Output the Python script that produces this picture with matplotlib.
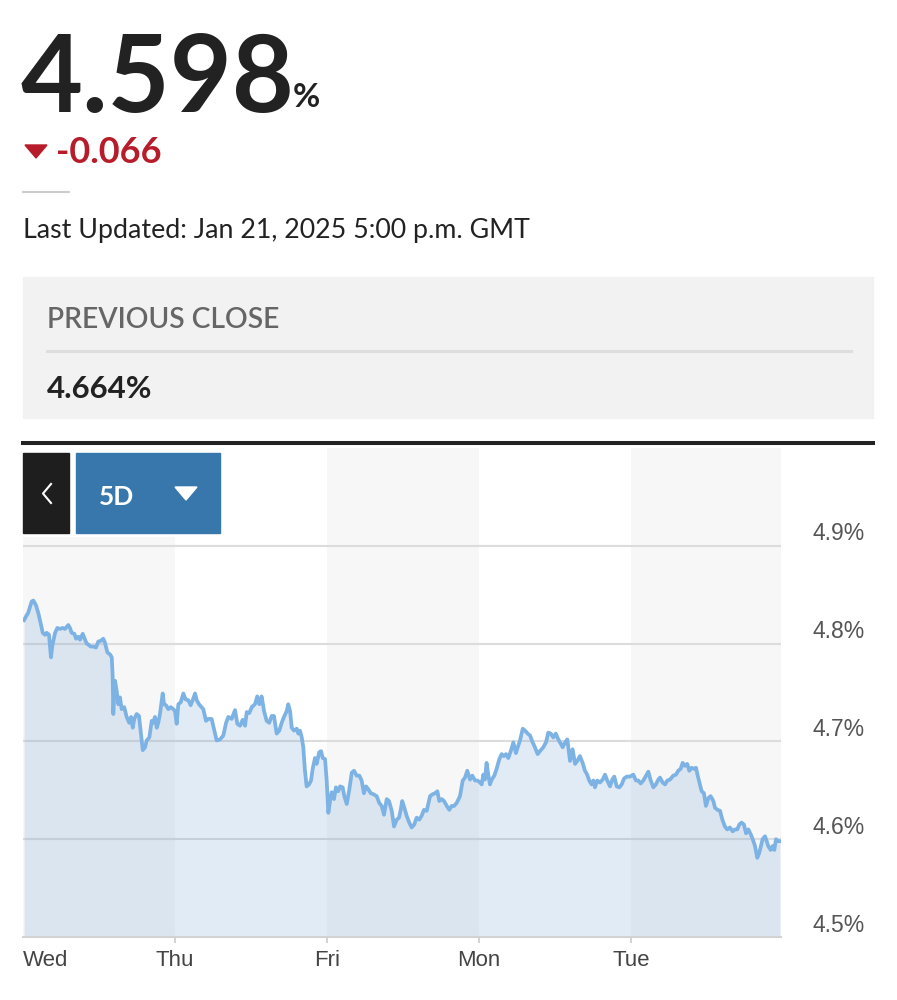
import matplotlib
matplotlib.use("Agg")
import matplotlib.pyplot as plt
from matplotlib.patches import Rectangle, Polygon
from matplotlib.lines import Line2D

# ---------------- data ----------------
last_value = "4.598"
change_text = "-0.066"
updated_text = "Last Updated: Jan 21, 2025 5:00 p.m. GMT"
prev_close_label = "PREVIOUS CLOSE"
prev_close_value = "4.664%"
range_label = "5D"

day_labels = ["Wed", "Thu", "Fri", "Mon", "Tue"]
day_ticks = [0, 1, 2, 3, 4]
y_ticks = [4.5, 4.6, 4.7, 4.8, 4.9]
y_tick_labels = ["4.5%", "4.6%", "4.7%", "4.8%", "4.9%"]

# time in trading days since Wed open, yield in %
t = [0.007, 0.024, 0.033, 0.057, 0.068, 0.086, 0.101, 0.116, 0.130, 0.145,
     0.156, 0.171, 0.184, 0.193, 0.211, 0.226, 0.243, 0.261, 0.276, 0.298,
     0.309, 0.320, 0.338, 0.349, 0.364, 0.375, 0.393, 0.408, 0.419, 0.430,
     0.445, 0.463, 0.480, 0.495, 0.513, 0.528, 0.539, 0.555, 0.572, 0.584,
     0.590, 0.594, 0.605, 0.616, 0.627, 0.638, 0.649, 0.666, 0.682, 0.699,
     0.711, 0.722, 0.732, 0.748, 0.763, 0.774, 0.788, 0.803, 0.814, 0.831,
     0.847, 0.857, 0.868, 0.880, 0.890, 0.901, 0.919, 0.928, 0.941, 0.956,
     0.972, 0.989, 1.000, 1.011, 1.022, 1.038, 1.055, 1.070, 1.088, 1.103,
     1.116, 1.132, 1.143, 1.158, 1.186, 1.204, 1.219, 1.241, 1.263, 1.274,
     1.296, 1.318, 1.336, 1.351, 1.373, 1.395, 1.410, 1.428, 1.445, 1.461,
     1.472, 1.489, 1.505, 1.526, 1.541, 1.555, 1.570, 1.586, 1.603, 1.620,
     1.636, 1.651, 1.669, 1.686, 1.702, 1.717, 1.735, 1.745, 1.757, 1.768,
     1.783, 1.801, 1.811, 1.822, 1.834, 1.844, 1.855, 1.866, 1.882, 1.895,
     1.906, 1.921, 1.932, 1.949, 1.961, 1.972, 1.987, 1.998, 2.009, 2.020,
     2.031, 2.046, 2.059, 2.074, 2.086, 2.103, 2.114, 2.130, 2.145, 2.163,
     2.178, 2.195, 2.213, 2.228, 2.243, 2.257, 2.272, 2.288, 2.305, 2.327,
     2.344, 2.360, 2.375, 2.393, 2.408, 2.426, 2.441, 2.459, 2.474, 2.485,
     2.495, 2.509, 2.524, 2.541, 2.557, 2.574, 2.590, 2.607, 2.623, 2.638,
     2.656, 2.666, 2.678, 2.695, 2.711, 2.726, 2.739, 2.755, 2.770, 2.788,
     2.805, 2.820, 2.836, 2.853, 2.875, 2.893, 2.908, 2.923, 2.941, 2.956,
     2.974, 2.989, 3.007, 3.018, 3.028, 3.039, 3.050, 3.061, 3.072, 3.084,
     3.101, 3.116, 3.134, 3.149, 3.164, 3.178, 3.193, 3.209, 3.226, 3.243,
     3.255, 3.270, 3.288, 3.303, 3.320, 3.336, 3.353, 3.368, 3.386, 3.401,
     3.423, 3.441, 3.456, 3.472, 3.489, 3.505, 3.522, 3.551, 3.566, 3.581,
     3.599, 3.616, 3.632, 3.647, 3.664, 3.682, 3.697, 3.712, 3.725, 3.741,
     3.752, 3.763, 3.778, 3.796, 3.814, 3.829, 3.844, 3.862, 3.877, 3.890,
     3.906, 3.923, 3.939, 3.954, 3.972, 3.993, 4.015, 4.033, 4.048, 4.064,
     4.081, 4.099, 4.114, 4.130, 4.147, 4.164, 4.180, 4.191, 4.208, 4.224,
     4.239, 4.257, 4.278, 4.296, 4.311, 4.327, 4.340, 4.355, 4.370, 4.384,
     4.399, 4.414, 4.428, 4.439, 4.454, 4.465, 4.480, 4.493, 4.509, 4.524,
     4.542, 4.553, 4.570, 4.586, 4.601, 4.618, 4.633, 4.651, 4.669, 4.684,
     4.699, 4.713, 4.728, 4.743, 4.757, 4.772, 4.788, 4.801, 4.816, 4.831,
     4.844, 4.855, 4.866, 4.882, 4.893, 4.903, 4.919, 4.932, 4.943, 4.954,
     4.969, 4.980]
yld = [4.824, 4.829, 4.831, 4.843, 4.844, 4.839, 4.831, 4.821, 4.811, 4.809,
       4.811, 4.809, 4.786, 4.798, 4.811, 4.816, 4.815, 4.816, 4.815, 4.819,
       4.816, 4.811, 4.810, 4.805, 4.807, 4.804, 4.810, 4.804, 4.800, 4.799,
       4.797, 4.797, 4.796, 4.802, 4.803, 4.805, 4.801, 4.791, 4.789, 4.786,
       4.766, 4.728, 4.762, 4.752, 4.738, 4.745, 4.733, 4.735, 4.725, 4.719,
       4.725, 4.714, 4.723, 4.728, 4.726, 4.711, 4.691, 4.694, 4.701, 4.704,
       4.721, 4.719, 4.725, 4.714, 4.719, 4.728, 4.749, 4.738, 4.737, 4.733,
       4.735, 4.733, 4.731, 4.718, 4.738, 4.740, 4.749, 4.743, 4.742, 4.737,
       4.742, 4.749, 4.742, 4.738, 4.733, 4.721, 4.723, 4.723, 4.708, 4.701,
       4.702, 4.706, 4.719, 4.725, 4.723, 4.732, 4.718, 4.716, 4.722, 4.716,
       4.730, 4.729, 4.735, 4.738, 4.746, 4.738, 4.746, 4.731, 4.721, 4.719,
       4.726, 4.726, 4.708, 4.711, 4.719, 4.725, 4.731, 4.738, 4.731, 4.714,
       4.711, 4.713, 4.708, 4.711, 4.704, 4.694, 4.670, 4.654, 4.656, 4.660,
       4.672, 4.683, 4.677, 4.689, 4.690, 4.683, 4.682, 4.660, 4.627, 4.639,
       4.648, 4.641, 4.653, 4.649, 4.654, 4.653, 4.644, 4.636, 4.649, 4.668,
       4.670, 4.665, 4.665, 4.660, 4.647, 4.654, 4.651, 4.647, 4.646, 4.644,
       4.637, 4.634, 4.625, 4.641, 4.639, 4.629, 4.613, 4.620, 4.622, 4.630,
       4.639, 4.632, 4.624, 4.617, 4.612, 4.615, 4.622, 4.620, 4.624, 4.630,
       4.629, 4.636, 4.644, 4.646, 4.647, 4.649, 4.639, 4.641, 4.639, 4.634,
       4.630, 4.634, 4.634, 4.637, 4.644, 4.660, 4.663, 4.670, 4.661, 4.665,
       4.660, 4.660, 4.658, 4.656, 4.666, 4.661, 4.678, 4.666, 4.656, 4.661,
       4.665, 4.672, 4.682, 4.687, 4.685, 4.687, 4.683, 4.690, 4.699, 4.688,
       4.694, 4.701, 4.713, 4.711, 4.708, 4.706, 4.699, 4.694, 4.687, 4.690,
       4.694, 4.699, 4.709, 4.708, 4.704, 4.708, 4.702, 4.694, 4.699, 4.702,
       4.680, 4.692, 4.677, 4.680, 4.685, 4.678, 4.670, 4.666, 4.660, 4.656,
       4.660, 4.653, 4.660, 4.658, 4.661, 4.666, 4.660, 4.654, 4.661, 4.664,
       4.654, 4.653, 4.656, 4.662, 4.664, 4.664, 4.666, 4.660, 4.660, 4.657,
       4.660, 4.665, 4.669, 4.660, 4.653, 4.656, 4.661, 4.663, 4.658, 4.656,
       4.660, 4.661, 4.665, 4.666, 4.670, 4.672, 4.678, 4.675, 4.677, 4.670,
       4.673, 4.672, 4.673, 4.665, 4.656, 4.649, 4.647, 4.634, 4.642, 4.644,
       4.639, 4.632, 4.630, 4.629, 4.620, 4.613, 4.610, 4.612, 4.608, 4.610,
       4.610, 4.615, 4.617, 4.615, 4.606, 4.610, 4.605, 4.600, 4.593, 4.581,
       4.586, 4.593, 4.600, 4.603, 4.598, 4.593, 4.589, 4.593, 4.589, 4.600,
       4.598, 4.598]

# ---------------- layout helpers ----------------
W, H = 897, 1000
fig = plt.figure(figsize=(W / 100, H / 100), dpi=100)
fig.patch.set_facecolor("white")

def fx(x):
    return x / W

def fy(y):
    return 1 - y / H

HEAD = "Lato"
AXF = "Liberation Sans"

# big value
fig.text(fx(21), fy(112), last_value, fontsize=77, fontweight="bold",
         family=HEAD, color="#222222", va="baseline", ha="left")
fig.text(fx(293), fy(107), "%", fontsize=24, fontweight="bold",
         family=HEAD, color="#222222", va="baseline", ha="left")

# change
red = "#b71c2b"
fig.patches.append(Polygon([(fx(25), fy(145)), (fx(47), fy(145)), (fx(36), fy(158))],
                           closed=True, transform=fig.transFigure, color=red))
fig.text(fx(56), fy(163), change_text, fontsize=26, fontweight="bold",
         family=HEAD, color=red, va="baseline", ha="left")

# short divider
fig.lines.append(Line2D([fx(23), fx(69)], [fy(192), fy(192)], transform=fig.transFigure,
                        color="#cccccc", lw=1.5))

fig.text(fx(23), fy(238), updated_text, fontsize=19.3, family=HEAD,
         color="#222222", va="baseline", ha="left")

# previous close box
fig.patches.append(Rectangle((fx(23), fy(418)), fx(873) - fx(23), fy(277) - fy(418),
                             transform=fig.transFigure, color="#f2f2f2", zorder=0))
fig.text(fx(47), fy(328), prev_close_label, fontsize=20.3, fontweight="semibold",
         family=HEAD, color="#666666", va="baseline", ha="left")
fig.lines.append(Line2D([fx(47), fx(851)], [fy(351), fy(351)], transform=fig.transFigure,
                        color="#dedede", lw=2.2))
fig.text(fx(47), fy(398), prev_close_value, fontsize=22.5, fontweight="bold",
         family=HEAD, color="#222222", va="baseline", ha="left")

# ---------------- chart axes ----------------
ax_left, ax_right, ax_top, ax_bottom = 23, 781, 448, 937
ax = fig.add_axes([fx(ax_left), fy(ax_bottom), fx(ax_right) - fx(ax_left),
                   fy(ax_top) - fy(ax_bottom)])
ax.set_xlim(0, 4.987)
ax.set_ylim(4.5, 5.0)
ax.set_facecolor("white")

band = "#f7f7f7"
btn_frac = (ax_bottom - 537) / (ax_bottom - ax_top)
ax.axvspan(0, 1, ymax=btn_frac, color=band, lw=0, zorder=0)
ax.axvspan(2, 3, color=band, lw=0, zorder=0)
ax.axvspan(4, 5, color=band, lw=0, zorder=0)

for yv in y_ticks[1:]:
    ax.axhline(yv, color="#dcdcdc", lw=1.5, zorder=1)

ax.fill_between(t, yld, 4.5, color="#6a9fd4", alpha=0.2, lw=0, zorder=2)
ax.plot(t, yld, color="#7db2e5", lw=2.7, zorder=3, solid_joinstyle="round")

for s in ["top", "left", "right"]:
    ax.spines[s].set_visible(False)
ax.spines["bottom"].set_color("#d3d3d3")
ax.spines["bottom"].set_linewidth(1.5)

ax.set_yticks([])
ax.set_xticks(day_ticks)
ax.set_xticklabels(day_labels, family=AXF, fontsize=16, color="#444444")
ax.tick_params(axis="x", length=4, width=1.2, color="#cccccc", pad=5)
ax.xaxis.get_major_ticks()[0].tick1line.set_visible(False)
ax.get_xticklabels()[0].set_ha("left")

for yv, lab in zip(y_ticks, y_tick_labels):
    ax.annotate(lab, xy=(1.0, yv), xycoords=("axes fraction", "data"),
                xytext=(23, 8.5), textcoords="offset points",
                ha="left", va="center", family=AXF, fontsize=16.5,
                color="#555555", annotation_clip=False)

# dark top rule
fig.lines.append(Line2D([fx(23), fx(873)], [fy(443), fy(443)], transform=fig.transFigure,
                        color="#222222", lw=2.9))

# buttons
fig.patches.append(Rectangle((fx(23), fy(533)), fx(69) - fx(23), fy(453) - fy(533),
                             transform=fig.transFigure, color="#1e1e1e", zorder=5))
fig.lines.append(Line2D([fx(51), fx(43), fx(51)], [fy(484), fy(493.5), fy(503)],
                        transform=fig.transFigure, color="white", lw=1.5, zorder=6))
fig.patches.append(Rectangle((fx(76), fy(533)), fx(220) - fx(76), fy(453) - fy(533),
                             transform=fig.transFigure, color="#3777ab", zorder=5))
fig.text(fx(99), fy(505), range_label, fontsize=19, fontweight="bold", family=HEAD,
         color="white", va="baseline", ha="left", zorder=6)
fig.patches.append(Polygon([(fx(175), fy(487)), (fx(197), fy(487)), (fx(186), fy(500))],
                           closed=True, transform=fig.transFigure, color="white", zorder=6))

fig.savefig("out.png", dpi=100)
